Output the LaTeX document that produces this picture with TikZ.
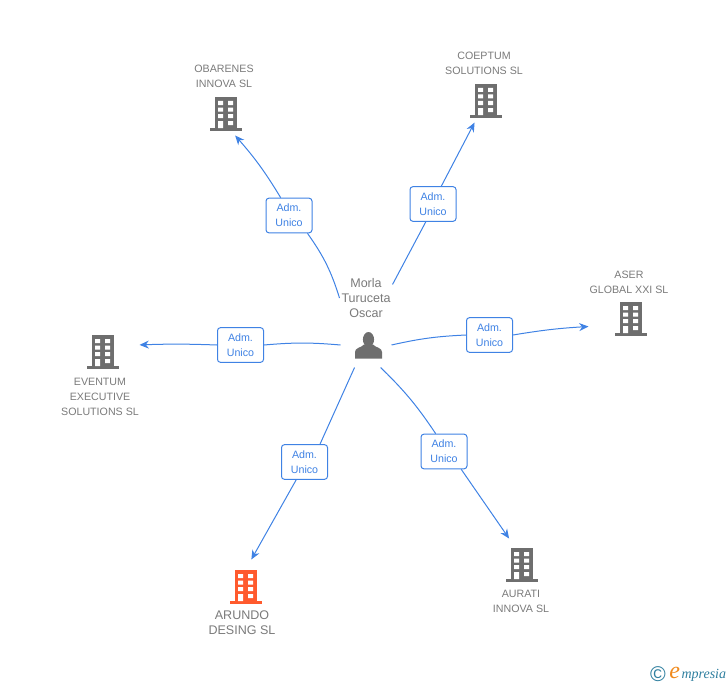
\documentclass[tikz,border=0pt]{standalone}
\usepackage{fontspec}
\setmainfont{Liberation Sans}
\newfontfamily\logofont{Liberation Serif}
\usetikzlibrary{arrows.meta}
\definecolor{bldggrey}{HTML}{6E6E6E}
\definecolor{bldgorange}{HTML}{FF5A2D}
\definecolor{namegrey}{HTML}{7A7A7A}
\definecolor{linkblue}{HTML}{3F82E4}
\definecolor{logoteal}{HTML}{2F7F9F}
\definecolor{logoorange}{HTML}{F08A1D}
\tikzset{every picture/.style={line width=0.75pt}}
\tikzset{
  bldgbox/.style={minimum width=57pt,minimum height=31.5pt,inner sep=0},
  admbox/.style={draw=linkblue,fill=white,rounded corners=2.2pt,minimum width=34.5pt,minimum height=26pt,inner sep=0,text=linkblue,align=center,font=\fontsize{8}{11.25}\selectfont},
  smallname/.style={text=namegrey,align=center,inner sep=0,font=\fontsize{8}{11.25}\selectfont},
  bigname/.style={text=namegrey,align=center,inner sep=0,font=\fontsize{9.4}{11.25}\selectfont},
  link/.style={draw=linkblue,line width=0.75pt},
  linkto/.style={link,-{Stealth[length=7pt,width=6pt]}},
  bldg/.pic={
    \fill[pic actions] (-11,17) rectangle (11,-14);
    \fill[pic actions] (-16,-14) rectangle (16,-17);
    \fill[white] (-8,13) rectangle (-3,9) (2,13) rectangle (7,9);
    \fill[white] (-8,6.5) rectangle (-3,2.5) (2,6.5) rectangle (7,2.5);
    \fill[white] (-8,0) rectangle (-3,-4) (2,0) rectangle (7,-4);
    \fill[white] (-8,-7) rectangle (-3,-14) (2,-7) rectangle (7,-11);
  }
}

\begin{document}
\begin{tikzpicture}[x=0.75pt,y=0.75pt,yscale=-1,xscale=1]
	\useasboundingbox (0,0) rectangle (728,685);

	% Person
	\node [minimum width=37.5pt,minimum height=33pt,inner sep=0] (person) at (366,345) {};
	\fill [bldggrey] (368.5,339.5) ellipse (5.6 and 7.5);
	\fill [bldggrey] (355,358.5) -- (355,352) .. controls (355,347.5) and (361,348) .. (364,344.5) -- (373,344.5) .. controls (376,348) and (382,347.5) .. (382,352) -- (382,358.5) -- cycle;
	\node [bigname,minimum width=39pt,minimum height=34.5pt] (morla) at (366,298) {Morla\\Turuceta\\Oscar};

	% Buildings
	\node [bldgbox] (obarenes) at (226,114) {};
	\pic [fill=bldggrey] at (obarenes) {bldg};
	\node [bldgbox] (coeptum) at (486,101) {};
	\pic [fill=bldggrey] at (coeptum) {bldg};
	\node [bldgbox,minimum width=63pt] (aser) at (631,319) {};
	\pic [fill=bldggrey] at (aser) {bldg};
	\node [bldgbox,minimum width=54pt] (eventum) at (103,352) {};
	\pic [fill=bldggrey] at (eventum) {bldg};
	\node [bldgbox,minimum height=40.5pt] (arundo) at (246,587) {};
	\pic [fill=bldgorange] at (arundo) {bldg};
	\node [bldgbox,minimum height=39pt] (aurati) at (522,565) {};
	\pic [fill=bldggrey] at (aurati) {bldg};

	% Names
	\node [smallname] (obarenesname) at (224,76.5) {OBARENES\\INNOVA SL};
	\node [smallname] (coeptumname) at (484,63.5) {COEPTUM\\SOLUTIONS SL};
	\node [smallname] (asername) at (629,282) {ASER\\GLOBAL XXI SL};
	\node [smallname] (eventumname) at (100,397) {EVENTUM\\EXECUTIVE\\SOLUTIONS SL};
	\node [bigname] (arundoname) at (242,623) {ARUNDO\\DESING SL};
	\node [smallname] (auratiname) at (521,601.5) {AURATI\\INNOVA SL};

	% Labels
	\node [admbox] (admobarenes) at (289,215.5) {Adm.\\Unico};
	\node [admbox] (admcoeptum) at (433,204) {Adm.\\Unico};
	\node [admbox] (admaser) at (489.5,335) {Adm.\\Unico};
	\node [admbox] (admeventum) at (240.5,345) {Adm.\\Unico};
	\node [admbox] (admarundo) at (304.5,462) {Adm.\\Unico};
	\node [admbox] (admaurati) at (444,451.5) {Adm.\\Unico};

	% Connectors
	\draw [link] (morla.west) to[bend left=9] (admobarenes.-44);
	\draw [linkto] (admobarenes.115) to[bend left=5] (obarenes.-67);
	\draw [link] (morla.27) to (admcoeptum.-112);
	\draw [linkto] (admcoeptum.65) to (coeptum.-118);
	\draw [link] (person.east) to[bend right=5] (admaser.west);
	\draw [linkto] (admaser.east) to[bend right=3] (aser.-170.5);
	\draw [link] (person.west) to[bend left=5] (admeventum.east);
	\draw [linkto] (admeventum.west) to[bend left=2] (eventum.11);
	\draw [link] (person.-117) to (admarundo.49);
	\draw [linkto] (admarundo.-115) to (arundo.79.5);
	\draw [link] (person.-57) to[bend right=6] (admaurati.115);
	\draw [linkto] (admaurati.-46) to (aurati.116.6);

	% Logo
	\node [text=logoteal,inner sep=0,font=\fontsize{16}{16}\selectfont] (logoc) at (658,674) {©};
	\node [text=logoorange,inner sep=0,anchor=base east,font=\logofont\itshape\fontsize{18}{18}\selectfont] (logoe) at (680.5,678) {e};
	\node [text=logoteal,inner sep=0,anchor=base west,font=\logofont\itshape\fontsize{10.5}{10.5}\selectfont] (logotext) at (681,678) {mpresia};
\end{tikzpicture}
\end{document}
